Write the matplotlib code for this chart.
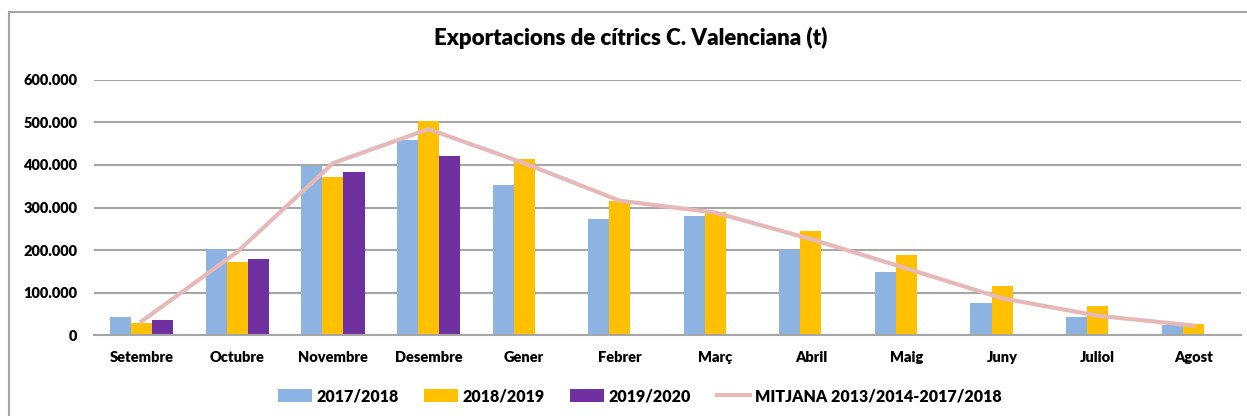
import matplotlib.pyplot as plt
import matplotlib.patches as mpatches
from matplotlib.ticker import FuncFormatter
import numpy as np

plt.rcParams['font.family'] = ['Lato', 'DejaVu Sans']
plt.rcParams['font.weight'] = 'heavy'

months = ["Setembre", "Octubre", "Novembre", "Desembre", "Gener", "Febrer",
          "Març", "Abril", "Maig", "Juny", "Juliol", "Agost"]

t_2017 = [42000, 202000, 398000, 459000, 352000, 273000, 280000, 201000, 149000, 75000, 44000, 24000]
t_2018 = [28000, 171000, 372000, 503000, 414000, 315000, 290000, 244000, 189000, 115000, 69000, 27000]
t_2019 = [36000, 180000, 384000, 421000]
mitjana = [33000, 196000, 404000, 484000, 404000, 316000, 288000, 226000, 157000, 87000, 46000, 23000]

c_blue = "#8DB3E2"
c_yellow = "#FFC000"
c_purple = "#7030A0"
c_line = "#E6B9B8"

fig = plt.figure(figsize=(12.47, 4.16), dpi=100)
ax = fig.add_axes([94/1247, (416-335.3)/416, 1147/1247, 255.6/416])

x = np.arange(len(months))
w = 0.22
b1 = ax.bar(x - w, t_2017, w, color=c_blue, label="2017/2018", zorder=2)
b2 = ax.bar(x, t_2018, w, color=c_yellow, label="2018/2019", zorder=2)
b3 = ax.bar(x[:len(t_2019)] + w, t_2019, w, color=c_purple, label="2019/2020", zorder=2)
l1, = ax.plot(x, mitjana, color=c_line, lw=3, label="MITJANA 2013/2014-2017/2018", zorder=3)

ax.set_xlim(-0.5, 11.5)
ax.set_ylim(0, 600000)
ax.set_yticks(np.arange(0, 600001, 100000))
ax.yaxis.set_major_formatter(FuncFormatter(lambda v, p: "0" if v == 0 else f"{int(v):,}".replace(",", ".")))
ax.set_xticks(x)
ax.set_xticklabels(months)
ax.tick_params(axis='both', length=0, labelsize=10.5)
ax.tick_params(axis='y', pad=12)
ax.tick_params(axis='x', pad=11)
ax.grid(axis='y', color="#A6A6A6", lw=1.5, zorder=0)
for s in ["left", "right", "top"]:
    ax.spines[s].set_visible(False)
ax.spines["bottom"].set_color("#A6A6A6")
ax.spines["bottom"].set_linewidth(1.5)

fig.text(631/1247, 1 - 38/416, "Exportacions de cítrics C. Valenciana (t)",
         ha="center", va="center", fontsize=16)

fig.legend([b1, b2, b3, l1], [h.get_label() for h in [b1, b2, b3, l1]],
           loc="center", bbox_to_anchor=(640/1247, 1 - 396/416), ncol=4,
           frameon=False, fontsize=11.5, handlelength=2.1, handleheight=0.8,
           columnspacing=1.6, handletextpad=0.3)

# outer frame
fig.patches.append(mpatches.Rectangle((9/1247, -0.1), 1.2, 1.1 - 12/416,
                                      transform=fig.transFigure, fill=False,
                                      edgecolor="#A6A6A6", lw=1.5))

fig.savefig("out.png", dpi=100)
